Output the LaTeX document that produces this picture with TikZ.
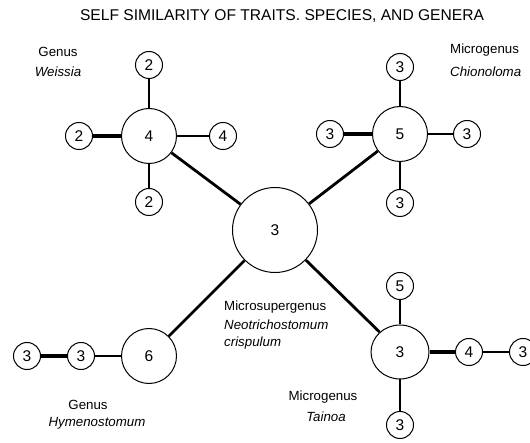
\documentclass[tikz,border=0pt]{standalone}
\usepackage{fontspec}
\setmainfont{Liberation Sans}
\usetikzlibrary{shapes.geometric}
\begin{document}
\begin{tikzpicture}[x=1pt,y=-1pt,
  leaf/.style={circle,draw,line width=1pt,minimum size=27pt,inner sep=0pt,font=\fontsize{15.5}{15.5}\selectfont},
  hub/.style={circle,draw,line width=1pt,minimum size=55pt,inner sep=0pt,font=\fontsize{15.5}{15.5}\selectfont},
  ovalhub/.style={ellipse,draw,line width=1pt,minimum width=58pt,minimum height=54pt,inner sep=0pt,font=\fontsize{15.5}{15.5}\selectfont},
  core/.style={circle,draw,line width=1pt,minimum size=85pt,inner sep=0pt,font=\fontsize{15.5}{15.5}\selectfont},
  link/.style={line width=2pt},
  heavy/.style={line width=4pt},
  trunk/.style={line width=2.8pt},
  lbl/.style={font=\fontsize{13.3}{16}\selectfont,inner sep=0pt},
  ttl/.style={font=\fontsize{15.6}{18}\selectfont,inner sep=0pt}]
\useasboundingbox (0,0) rectangle (530,443);
\clip (0,0) rectangle (530,443);

\node[ttl] (title) at (282,16) {SELF SIMILARITY OF TRAITS. SPECIES, AND GENERA};

% central microsupergenus
\node[core] (c) at (275,230) {3};

% genus Weissia
\node[hub] (w) at (149,136) {4};
\node[leaf] (wt) at (149,65) {2};
\node[leaf] (wl) at (79,136) {2};
\node[leaf] (wr) at (223,136) {4};
\node[leaf] (wb) at (149,202) {2};

% microgenus Chionoloma
\node[hub] (ch) at (400,134) {5};
\node[leaf] (cht) at (400,67) {3};
\node[leaf] (chl) at (330,134) {3};
\node[leaf] (chr) at (467,134) {3};
\node[leaf] (chb) at (400,203) {3};

% genus Hymenostomum
\node[hub] (h) at (149,356) {6};
\node[leaf] (hm) at (81,356) {3};
\node[leaf] (hl) at (27,356) {3};

% microgenus Tainoa
\node[ovalhub] (t) at (400,352) {3};
\node[leaf] (tt) at (400,286) {5};
\node[leaf] (tb) at (400,425) {3};
\node[leaf] (tr) at (469,352) {4};
\node[leaf] (trr) at (523,352) {3};

% connectors
\draw[trunk] (w) -- (c);
\draw[trunk] (ch) -- (c);
\draw[trunk] (h) -- (c);
\draw[trunk] (t) -- (c);

\draw[link] (w) -- (wt);
\draw[heavy] (w) -- (wl);
\draw[link] (w) -- (wr);
\draw[link] (w) -- (wb);

\draw[link] (ch) -- (cht);
\draw[heavy] (ch) -- (chl);
\draw[link] (ch) -- (chr);
\draw[link] (ch) -- (chb);

\draw[link] (h) -- (hm);
\draw[heavy] (hm) -- (hl);

\draw[link] (t) -- (tt);
\draw[link] (t) -- (tb);
\draw[heavy] (t) -- (tr);
\draw[link] (tr) -- (trr);

% labels
\node[lbl] (lw1) at (58,52) {Genus};
\node[lbl] (lw2) at (58,72) {\itshape Weissia};

\node[lbl,anchor=west] (lc1) at (450,50) {Microgenus};
\node[lbl,anchor=west] (lc2) at (450,72) {\itshape Chionoloma};

\node[lbl,anchor=west] (lm1) at (224,307) {Microsupergenus};
\node[lbl,anchor=west] (lm2) at (224,325) {\itshape Neotrichostomum};
\node[lbl,anchor=west] (lm3) at (224,343) {\itshape crispulum};

\node[lbl] (lt1) at (323,397) {Microgenus};
\node[lbl] (lt2) at (326,417) {\itshape Tainoa};

\node[lbl] (lh1) at (88,405) {Genus};
\node[lbl] (lh2) at (97,423) {\itshape Hymenostomum};
\end{tikzpicture}
\end{document}
